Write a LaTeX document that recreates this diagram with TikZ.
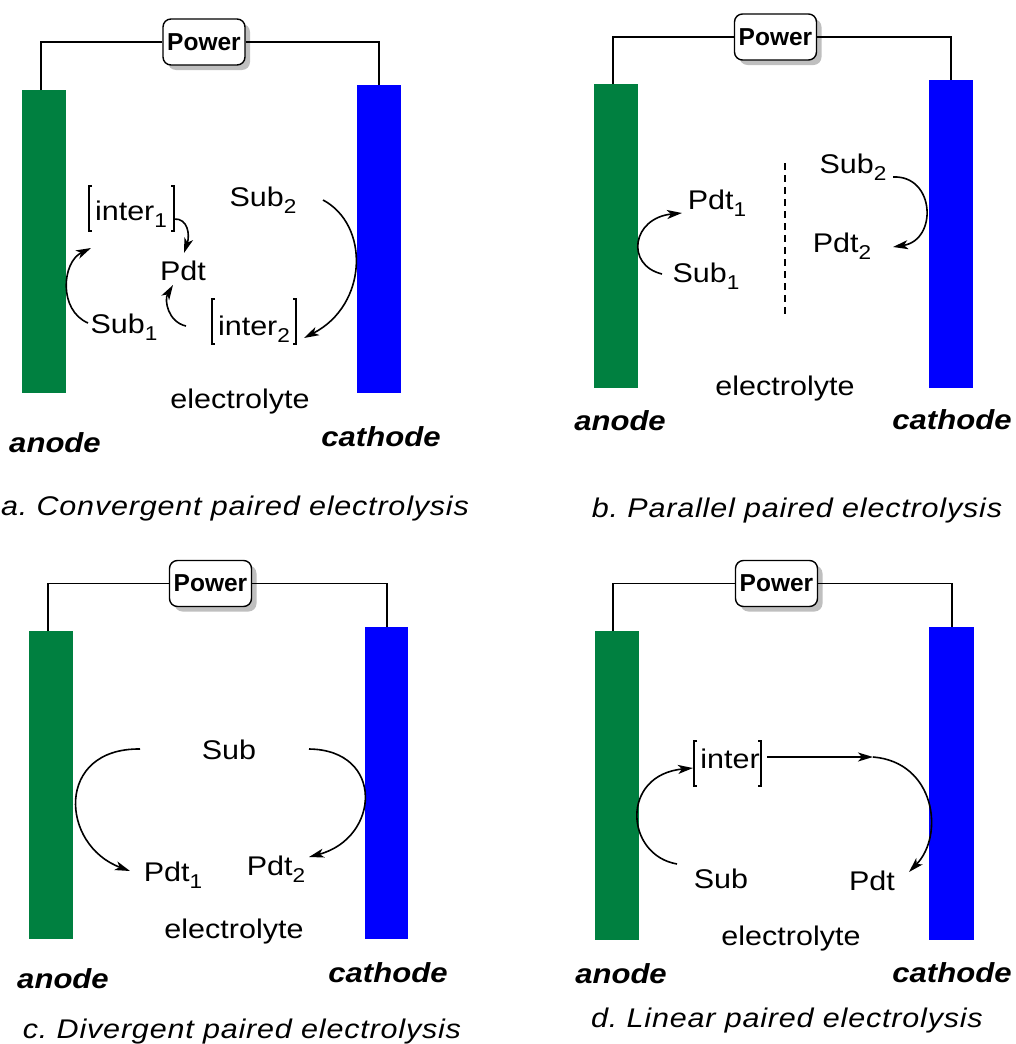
\documentclass[tikz,border=0pt]{standalone}
\usepackage{fontspec}
\setmainfont{Liberation Sans}[FakeStretch=1.13]
\newfontfamily\powerfont{Liberation Sans}
\newfontfamily\capfont{Liberation Sans}[FakeStretch=1.13, LetterSpace=3]
\usetikzlibrary{arrows.meta,calc,shadows}
\definecolor{anodegreen}{RGB}{0,128,64}
\definecolor{cathodeblue}{RGB}{0,0,255}
\newcommand\idx[1]{\raisebox{-7pt}{\fontsize{20}{22}\selectfont #1}}

\begin{document}
\begin{tikzpicture}[
        x=1pt, y=-1pt,
        every node/.style={inner sep=0pt, anchor=base},
        lbl/.style={font=\fontsize{27}{31}\selectfont},
        electrode/.style={font=\fontsize{27.5}{31}\selectfont\bfseries\itshape},
        caption/.style={font=\capfont\fontsize{27}{31}\selectfont\itshape},
        power/.style={draw, line width=1.4pt, rounded corners=8pt, fill=white, anchor=center,
            minimum width=82pt, minimum height=46pt, font=\powerfont\fontsize{24.5}{28}\selectfont\bfseries,
            drop shadow={shadow xshift=5pt, shadow yshift=-5pt, fill=black!25, opacity=1}},
        anodebar/.style={fill=anodegreen, minimum width=44pt, anchor=north west},
        cathodebar/.style={fill=cathodeblue, minimum width=44pt, anchor=north west},
        wire/.style={line width=1.6pt},
        arrow/.style={-{Stealth[length=15pt, width=9pt, inset=4pt]}, line width=1.6pt},
        brk/.style={line width=1.2pt}
    ]
        \useasboundingbox (0,0) rectangle (1016,1044);

        % a. convergent
        \node[anodebar, minimum height=303pt] (anodeA) at (22,90) {};
        \node[cathodebar, minimum height=308pt] (cathodeA) at (357,85) {};
        \node[power] (powerA) at (204,42) {Power};
        \draw[wire] ([xshift=-3pt]anodeA.north) |- (powerA.west);
        \draw[wire] (powerA.east) -| (cathodeA.north);

        \node[lbl] (inter1A) at (131,220) {inter\idx{1}};
        \node[lbl] (pdtA) at (183,280) {Pdt};
        \node[lbl] (sub1A) at (124,333) {Sub\idx{1}};
        \node[lbl] (inter2A) at (254,335) {inter\idx{2}};
        \node[lbl] (sub2A) at (263,206) {Sub\idx{2}};
        \node[lbl] (elA) at (240,408) {electrolyte};
        \node[electrode] (anlabelA) at (55,452) {anode};
        \node[electrode] (calabelA) at (381,446) {cathode};
        \node[caption] (capA) at (235,515) {a.\ Convergent paired electrolysis};

        \draw[brk] ($(inter1A.base)+(-39,-34)$) -- ++(-3,0) -- ++(0,45) -- ++(3,0);
        \draw[brk] ($(inter1A.base)+(40,-34)$) -- ++(3,0) -- ++(0,45) -- ++(-3,0);
        \draw[brk] ($(inter2A.base)+(-39,-36)$) -- ++(-3,0) -- ++(0,45) -- ++(3,0);
        \draw[brk] ($(inter2A.base)+(39,-36)$) -- ++(3,0) -- ++(0,45) -- ++(-3,0);

        \draw[arrow] ($(sub1A.base)+(-36,-10)$) .. controls +(-30,-13) and +(-29,14) .. ($(inter1A.base)+(-40,28)$);
        \draw[arrow] ($(inter1A.base)+(43,-1)$) .. controls +(14,-1) and +(6,-18) .. ($(pdtA.base)+(1,-27)$);
        \draw[arrow] ($(inter2A.base)+(-68,-9)$) .. controls +(-18,-4) and +(-9,15) .. ($(pdtA.base)+(-10,5)$);
        \draw[arrow] ($(sub2A.base)+(60,-6)$) .. controls +(47,25) and +(64,-33) .. ($(inter2A.base)+(50,3)$);

        % b. parallel
        \node[anodebar, minimum height=304pt] (anodeB) at (594,84) {};
        \node[cathodebar, minimum height=308pt] (cathodeB) at (929,80) {};
        \node[power] (powerB) at (775.5,37) {Power};
        \draw[wire] ([xshift=-3pt]anodeB.north) |- (powerB.west);
        \draw[wire] (powerB.east) -| (cathodeB.north);

        \node[lbl] (pdt1B) at (717,209) {Pdt\idx{1}};
        \node[lbl] (sub1B) at (706,282) {Sub\idx{1}};
        \node[lbl] (sub2B) at (853,173) {Sub\idx{2}};
        \node[lbl] (pdt2B) at (842,252) {Pdt\idx{2}};
        \node[lbl] (elB) at (785,395) {electrolyte};
        \node[electrode] (anlabelB) at (620,430) {anode};
        \node[electrode] (calabelB) at (952,429) {cathode};
        \node[caption] (capB) at (797,517) {b.\ Parallel paired electrolysis};

        \draw[dash pattern=on 7pt off 5pt, line width=1.3pt] (785,163) -- (785,316);

        \draw[arrow] ($(sub1B.base)+(-44,-8)$) .. controls +(-37,-9) and +(-50,5) .. ($(pdt1B.base)+(-35,4)$);
        \draw[arrow] ($(sub2B.base)+(40,4)$) .. controls +(42,-2) and +(45,-7) .. ($(pdt2B.base)+(51,-5)$);

        % c. divergent
        \node[anodebar, minimum height=308pt] (anodeC) at (29,631) {};
        \node[cathodebar, minimum height=312pt, minimum width=43pt] (cathodeC) at (365,627) {};
        \node[power] (powerC) at (210.5,583.5) {Power};
        \draw[wire] ([xshift=-3pt]anodeC.north) |- (powerC.west);
        \draw[wire] (powerC.east) -| (cathodeC.north);

        \node[lbl] (subC) at (229,759) {Sub};
        \node[lbl] (pdt1C) at (173,881) {Pdt\idx{1}};
        \node[lbl] (pdt2C) at (276,875) {Pdt\idx{2}};
        \node[lbl] (elC) at (234,938) {electrolyte};
        \node[electrode] (anlabelC) at (63,988) {anode};
        \node[electrode] (calabelC) at (388,982) {cathode};
        \node[caption] (capC) at (242,1038) {c.\ Divergent paired electrolysis};

        \draw[arrow] ($(subC.base)+(-89,-10)$) .. controls +(-85,-1) and +(-70,-26) .. ($(pdt1C.base)+(-43,-10)$);
        \draw[arrow] ($(subC.base)+(80,-10)$) .. controls +(76,1) and +(71,-19) .. ($(pdt2C.base)+(33,-18)$);

        % d. linear
        \node[anodebar, minimum height=309pt] (anodeD) at (595,631) {};
        \node[cathodebar, minimum height=313pt, minimum width=45pt] (cathodeD) at (929,627) {};
        \node[power] (powerD) at (776.5,583.5) {Power};
        \draw[wire] ([xshift=-4pt]anodeD.north) |- (powerD.west);
        \draw[wire] (powerD.east) -| (cathodeD.north);

        \node[lbl] (interD) at (730,768) {inter};
        \node[lbl] (subD) at (721,888) {Sub};
        \node[lbl] (pdtD) at (872,890) {Pdt};
        \coordinate (turnD) at (873,757);
        \node[lbl] (elD) at (791,945) {electrolyte};
        \node[electrode] (anlabelD) at (621,983) {anode};
        \node[electrode] (calabelD) at (952,982) {cathode};
        \node[caption] (capD) at (787,1027) {d.\ Linear paired electrolysis};

        \draw[brk] ($(interD.base)+(-33,-27)$) -- ++(-3,0) -- ++(0,45) -- ++(3,0);
        \draw[brk] ($(interD.base)+(28,-27)$) -- ++(3,0) -- ++(0,45) -- ++(-3,0);

        \draw[arrow] ($(subD.base)+(-44,-24)$) .. controls +(-52,-9) and +(-73,7) .. ($(interD.base)+(-37,0)$);
        \draw[arrow] ($(interD.base)+(37,-11)$) -- (turnD);
        \draw[arrow] (turnD) .. controls +(62,5) and +(36,-37) .. ($(pdtD.base)+(37,-18)$);

    \end{tikzpicture}
\end{document}
